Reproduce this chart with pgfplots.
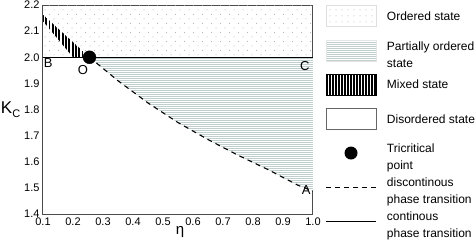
\documentclass[border=0pt]{standalone}
\usepackage{fontspec}
\setmainfont{Liberation Sans}
\usepackage{pgfplots}
\pgfplotsset{compat=1.18}
\usetikzlibrary{patterns.meta}
\definecolor{dotcol}{RGB}{150,168,168}
\definecolor{linecol}{RGB}{192,206,206}
\newcommand{\lent}[1]{\parbox[c]{95pt}{\raggedright #1}}
\begin{document}
\begin{tikzpicture}
\useasboundingbox (-43pt,-30pt) rectangle (432pt,214pt);
\begin{axis}[
  at={(0pt,0pt)}, anchor=south west,
  scale only axis, width=270pt, height=209pt,
  xmin=0.1, xmax=1.0, ymin=1.4, ymax=2.2,
  xtick={0.1,0.2,0.3,0.4,0.5,0.6,0.7,0.8,0.9,1.0},
  xticklabels={0.1,0.2,0.3,0.4,0.5,0.6,0.7,0.8,0.9,1.0},
  ytick={1.4,1.5,1.6,1.7,1.8,1.9,2.0,2.1,2.2},
  yticklabels={1.4,1.5,1.6,1.7,1.8,1.9,2.0,2.1,2.2},
  major tick length=0pt,
  axis line style={draw=gray!60!black, line width=1pt},
  tick label style={font=\fontsize{11}{11}\selectfont},
  xlabel={η}, xlabel style={font=\fontsize{15}{15}\selectfont, yshift=6pt, xshift=2pt},
  ylabel={K\raisebox{-3.5pt}{\fontsize{11}{11}\selectfont C}},
  ylabel style={rotate=-90, font=\fontsize{17}{17}\selectfont, at={(axis description cs:-0.12,0.5)}, anchor=center},
  clip=false,
  legend style={at={(axis description cs:1.044,1.029)}, anchor=north west, draw=none, fill=none,
    inner sep=0pt, row sep=0pt, column sep=10pt, font=\fontsize{12}{17}\selectfont,
    nodes={inner sep=0pt, minimum height=34.2pt}},
  legend cell align=left,
]
% ordered state
\addplot[forget plot, draw=none, pattern={Dots[distance=9pt,radius=0.5pt]}, pattern color=dotcol]
  coordinates {(0.1,2.0) (1.0,2.0) (1.0,2.2) (0.1,2.2)} -- cycle;
\addplot[forget plot, draw=none, pattern={Dots[distance=9pt,radius=0.5pt,xshift=4.5pt,yshift=4.5pt]}, pattern color=dotcol]
  coordinates {(0.1,2.0) (1.0,2.0) (1.0,2.2) (0.1,2.2)} -- cycle;
% mixed state
\addplot[forget plot, draw=none, fill=white, postaction={pattern={Lines[angle=90,distance=3.3pt,line width=1.9pt]}, pattern color=black}]
  coordinates {(0.1,2.163) (0.255,2.0) (0.2,2.0) (0.1,2.138)} -- cycle;
% partially ordered
\addplot[forget plot, draw=none, fill=white, postaction={pattern={Lines[angle=0,distance=2pt,line width=0.9pt]}, pattern color=linecol}]
  coordinates {(0.255,2.0) (1.0,2.0) (1.0,1.488) (0.95,1.51) (0.85,1.57) (0.75,1.625) (0.65,1.685) (0.55,1.75) (0.45,1.825) (0.35,1.91)} -- cycle;
% discontinuous transition
\addplot[forget plot, black, line width=1.1pt, dash pattern=on 5pt off 4pt]
  coordinates {(0.255,2.0) (0.35,1.91) (0.45,1.825) (0.55,1.75) (0.65,1.685) (0.75,1.625) (0.85,1.57) (0.95,1.51) (1.0,1.488)};
% continuous transition
\addplot[forget plot, black, line width=0.9pt] coordinates {(0.1,2.0) (1.0,2.0)};
% tricritical point
\addplot[forget plot, only marks, mark=*, mark size=6.5pt, black] coordinates {(0.255,2.0)};

\node[font=\fontsize{13}{13}\selectfont] at (axis cs:0.117,1.978) {B};
\node[font=\fontsize{13}{13}\selectfont] at (axis cs:0.233,1.953) {O};
\node[font=\fontsize{13}{13}\selectfont] at (axis cs:0.973,1.967) {C};
\node[font=\fontsize{13}{13}\selectfont] at (axis cs:0.977,1.492) {A};

\addlegendimage{legend image code/.code={\draw[draw=gray!25, line width=0.8pt, pattern={Dots[distance=6pt,radius=0.5pt]}, pattern color=dotcol] (0pt,-10.5pt) rectangle (50pt,10.5pt);}}
\addlegendentry{\lent{Ordered state}}
\addlegendimage{legend image code/.code={\draw[draw=gray!20, line width=0.8pt, fill=white, postaction={pattern={Lines[angle=0,distance=2pt,line width=0.9pt]}, pattern color=linecol}] (0pt,-10.5pt) rectangle (50pt,10.5pt);}}
\addlegendentry{\lent{Partially ordered\\state}}
\addlegendimage{legend image code/.code={\fill[pattern={Lines[angle=90,distance=3pt,line width=1.9pt]}, pattern color=black] (0pt,-10.5pt) rectangle (50pt,10.5pt);}}
\addlegendentry{\lent{Mixed state}}
\addlegendimage{legend image code/.code={\draw[draw=gray!80!black, line width=0.8pt, fill=white] (0pt,-10.5pt) rectangle (50pt,10.5pt);}}
\addlegendentry{\lent{Disordered state}}
\addlegendimage{legend image code/.code={\path[draw=none, fill=none] (0pt,-1pt) rectangle (50pt,1pt); \fill[black, draw=none] (25pt,0pt) circle (6.5pt);}}
\addlegendentry{\lent{Tricritical\\point}}
\addlegendimage{legend image code/.code={\draw[black, line width=1pt, dash pattern=on 5pt off 4pt] (0pt,0pt) -- (50pt,0pt);}}
\addlegendentry{\lent{discontinous\\phase transition}}
\addlegendimage{legend image code/.code={\draw[black, line width=1pt] (0pt,0pt) -- (50pt,0pt);}}
\addlegendentry{\lent{continous\\phase transition}}
\end{axis}
\end{tikzpicture}
\end{document}
